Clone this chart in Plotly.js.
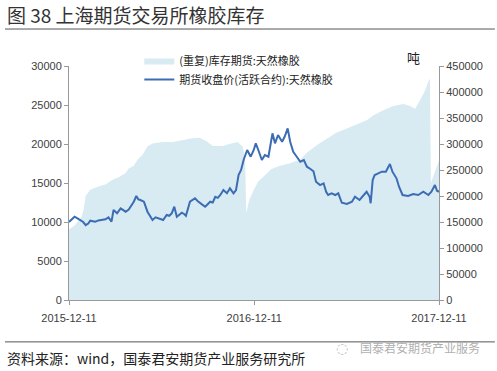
<!DOCTYPE html>
<html><head><meta charset="utf-8">
<script src="https://cdn.plot.ly/plotly-3.0.1.min.js"></script>
<style>html,body{margin:0;padding:0;background:#fff}#c{width:497px;height:371px}</style>
</head><body><div id="c"></div>
<script>
const titleText = "图 38 上海期货交易所橡胶库存";
const sourceText = "资料来源：wind，国泰君安期货产业服务研究所";
const watermark = "国泰君安期货产业服务";
const invName = "(重复)库存期货:天然橡胶";
const priceName = "期货收盘价(活跃合约):天然橡胶";
const xTicks = ["2015-12-11", "2016-12-11", "2017-12-11"];

const invDates = ["2015-12-11","2015-12-23","2016-01-05","2016-01-09","2016-01-13","2016-01-22","2016-02-06","2016-02-21","2016-03-05","2016-03-18","2016-04-01","2016-04-07","2016-04-17","2016-04-24","2016-05-04","2016-05-14","2016-05-24","2016-06-13","2016-07-03","2016-07-23","2016-08-11","2016-08-25","2016-09-07","2016-09-20","2016-10-10","2016-10-23","2016-11-08","2016-11-18","2016-11-23","2016-11-25","2016-12-01","2016-12-10","2016-12-19","2017-01-01","2017-01-14","2017-01-31","2017-02-20","2017-03-12","2017-03-25","2017-04-14","2017-05-04","2017-05-23","2017-06-12","2017-07-02","2017-07-22","2017-08-03","2017-08-23","2017-09-12","2017-10-02","2017-10-15","2017-10-25","2017-11-04","2017-11-14","2017-11-21","2017-11-23","2017-11-25","2017-11-30","2017-12-06","2017-12-11"];
const invValues = [135000,144000,160000,175000,200000,212000,218000,222000,231000,236000,244000,253000,258000,269000,279000,295000,301000,304000,304000,308000,311000,312000,306000,296000,296000,300000,304000,295000,270000,167000,192000,211500,228000,240000,252000,258000,263000,270000,283000,298000,310000,322000,330000,338000,346000,355000,365000,373000,377000,373000,368000,385000,404000,423000,425000,225000,240000,255000,268000];

const priceDates = ["2015-12-11","2015-12-22","2015-12-27","2016-01-02","2016-01-08","2016-01-13","2016-01-18","2016-01-22","2016-02-01","2016-02-07","2016-02-14","2016-02-21","2016-02-27","2016-03-04","2016-03-08","2016-03-15","2016-03-22","2016-03-27","2016-04-01","2016-04-07","2016-04-11","2016-04-17","2016-04-22","2016-04-26","2016-04-30","2016-05-07","2016-05-14","2016-05-19","2016-05-24","2016-05-30","2016-06-05","2016-06-10","2016-06-14","2016-06-21","2016-06-26","2016-07-01","2016-07-06","2016-07-11","2016-07-16","2016-07-21","2016-07-26","2016-07-29","2016-08-06","2016-08-11","2016-08-16","2016-08-21","2016-08-26","2016-08-31","2016-09-05","2016-09-10","2016-09-15","2016-09-20","2016-09-25","2016-09-30","2016-10-05","2016-10-11","2016-10-18","2016-10-24","2016-10-31","2016-11-05","2016-11-10","2016-11-15","2016-11-20","2016-11-27","2016-12-04","2016-12-10","2016-12-14","2016-12-19","2016-12-26","2017-01-01","2017-01-08","2017-01-16","2017-01-21","2017-01-27","2017-02-04","2017-02-09","2017-02-15","2017-02-20","2017-02-26","2017-03-05","2017-03-12","2017-03-19","2017-03-25","2017-04-01","2017-04-07","2017-04-12","2017-04-20","2017-04-27","2017-05-02","2017-05-06","2017-05-13","2017-05-20","2017-05-26","2017-06-02","2017-06-12","2017-06-22","2017-06-28","2017-07-07","2017-07-15","2017-07-21","2017-07-27","2017-07-29","2017-08-02","2017-08-06","2017-08-13","2017-08-20","2017-08-28","2017-09-05","2017-09-10","2017-09-18","2017-09-23","2017-09-30","2017-10-11","2017-10-21","2017-10-31","2017-11-10","2017-11-20","2017-11-26","2017-12-03","2017-12-07","2017-12-11"];
const priceValues = [10000,10680,10500,10260,10000,9600,9800,10170,10040,10200,10260,10350,10600,10040,11540,11110,11750,11500,11320,11600,11960,12600,13330,12900,12820,12600,11320,10800,10260,10600,10470,10300,10260,10900,10800,11110,11960,10680,11000,11190,11000,10800,12600,12800,13040,12700,12400,12200,11960,12300,12600,12500,13240,13100,13460,14100,13680,14320,13680,14100,16030,16670,17950,19230,18370,19230,20090,19230,17950,18590,18370,21370,20090,21150,20290,20930,22010,20290,19010,18370,17730,17950,17090,16800,16500,15170,14740,14960,13880,13460,13680,13460,13680,12470,12310,12600,13240,12820,13460,13880,13240,12400,15380,16030,16240,16450,16450,17430,16450,15600,14530,13460,13330,13590,13460,13880,13460,13880,14740,14010,13880];

const tickFont = {family: "Liberation Sans, Arial, sans-serif", size: 11, color: "#404040"};
const cjk = "Noto Sans CJK SC, sans-serif";

const data = [
  {x: invDates, y: invValues, name: invName, type: "scatter", mode: "lines", fill: "tozeroy",
   fillcolor: "#d8eaf2", line: {width: 0, color: "#d8eaf2"}, yaxis: "y"},
  {x: priceDates, y: priceValues, name: priceName, type: "scatter", mode: "lines",
   line: {width: 2, color: "#3c6db4"}, yaxis: "y2"}
];

const layout = {
  width: 497, height: 371,
  margin: {l: 69, r: 58, t: 66, b: 71},
  paper_bgcolor: "#fff", plot_bgcolor: "#fff",
  showlegend: true,
  legend: {x: 0.19, y: 1.085, xanchor: "left", yanchor: "top", bgcolor: "rgba(0,0,0,0)",
           font: {family: cjk, size: 11, color: "#222"}, tracegroupgap: 0},
  xaxis: {type: "date", range: ["2015-12-11", "2017-12-11"], tickvals: xTicks, ticktext: xTicks,
          showgrid: false, zeroline: false, showline: true, linecolor: "#999", linewidth: 1,
          ticks: "outside", ticklen: 4, tickcolor: "#999", tickfont: tickFont, ticklabelstandoff: 4},
  yaxis: {side: "right", range: [0, 450000], dtick: 50000, showgrid: false, zeroline: false,
          showline: true, linecolor: "#999", ticks: "outside", ticklen: 4, tickcolor: "#999",
          tickfont: tickFont, tickformat: "d"},
  yaxis2: {overlaying: "y", side: "left", range: [0, 30000], dtick: 5000, showgrid: false,
           zeroline: false, showline: true, linecolor: "#999", ticks: "outside", ticklen: 4,
           tickcolor: "#999", tickfont: tickFont, tickformat: "d"},
  annotations: [
    {text: titleText, xref: "paper", yref: "paper", x: -0.173, y: 1.218, xanchor: "left", yanchor: "middle",
     showarrow: false, font: {family: cjk, size: 19, color: "#333"}},
    {text: "吨", xref: "paper", yref: "paper", x: 0.93, y: 1.035, xanchor: "center", yanchor: "middle",
     showarrow: false, font: {family: cjk, size: 13, color: "#222"}},
    {text: sourceText, xref: "paper", yref: "paper", x: -0.173, y: -0.248, xanchor: "left", yanchor: "middle",
     showarrow: false, font: {family: cjk, size: 14, color: "#222"}},
    {text: watermark, xref: "paper", yref: "paper", x: 1.116, y: -0.205, xanchor: "right", yanchor: "middle",
     showarrow: false, font: {family: cjk, size: 12, color: "#b0b0b0"}},
    {text: "◌", xref: "paper", yref: "paper", x: 0.76, y: -0.205, xanchor: "right", yanchor: "middle",
     showarrow: false, font: {family: "DejaVu Sans, sans-serif", size: 14, color: "#c0c0c0"}}
  ],
  shapes: [
    {type: "line", xref: "paper", yref: "paper", x0: -0.173, x1: 1.151, y0: 1.158, y1: 1.158,
     line: {color: "#555", width: 1}},
    {type: "line", xref: "paper", yref: "paper", x0: -0.173, x1: 1.151, y0: -0.179, y1: -0.179,
     line: {color: "#555", width: 1}}
  ]
};

Plotly.newPlot("c", data, layout, {displayModeBar: false, staticPlot: true});
</script></body></html>
